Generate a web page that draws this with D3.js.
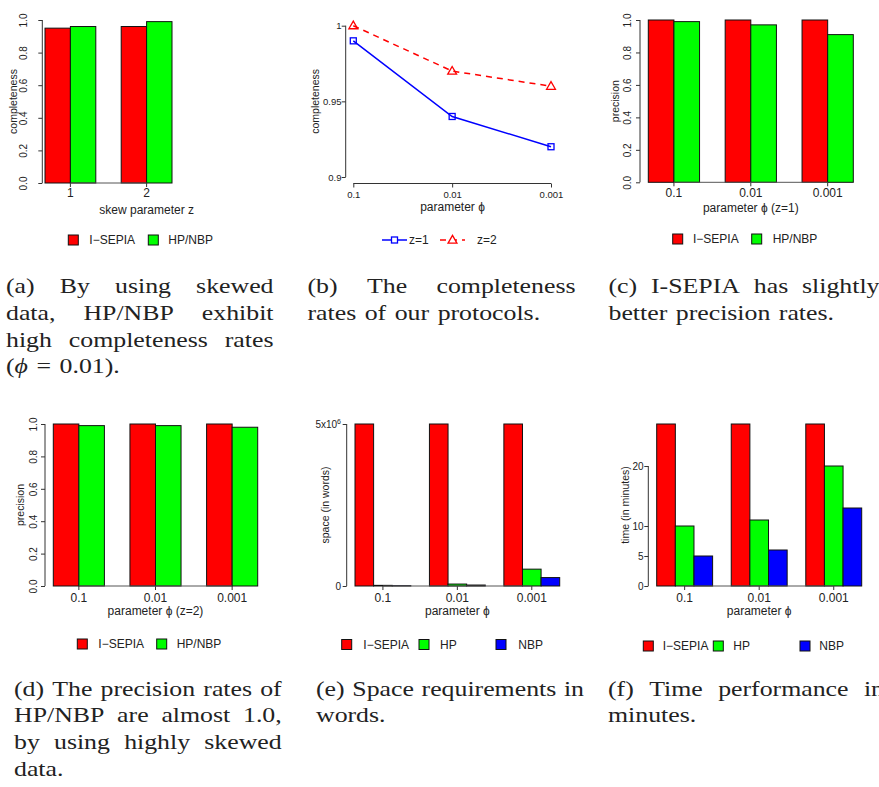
<!DOCTYPE html>
<html>
<head>
<meta charset="utf-8">
<script src="https://cdn.jsdelivr.net/npm/d3@7/dist/d3.min.js"></script>
<style>
  body { margin: 0; background: #fff; }
  svg { display: block; }
</style>
</head>
<body>
<div id="chart"></div>
<script>

// ---- data ----
let skewCats = ["1", "2"];
let phiCats = ["0.1", "0.01", "0.001"];
let series2 = ["I\u2212SEPIA", "HP/NBP"];
let series3 = ["I\u2212SEPIA", "HP", "NBP"];

// (a) completeness vs skew, phi = 0.01
let complIsepia = [0.95, 0.96];
let complHpnbp = [0.96, 0.99];
// (b) completeness vs phi
let complZ1 = [0.99, 0.94, 0.92];
let complZ2 = [1.0, 0.97, 0.96];
// (c) precision z=1
let precZ1Isepia = [1.0, 1.0, 1.0];
let precZ1Hpnbp = [0.99, 0.97, 0.91];
// (d) precision z=2
let precZ2Isepia = [1.0, 1.0, 1.0];
let precZ2Hpnbp = [0.99, 0.99, 0.98];
// (e) space in words
let spaceIsepia = [5e6, 5e6, 5e6];
let spaceHp = [0.02e6, 0.06e6, 0.52e6];
let spaceNbp = [0.01e6, 0.03e6, 0.26e6];
// (f) time in minutes
let timeIsepia = [27, 27, 27];
let timeHp = [10, 11, 20];
let timeNbp = [5, 6, 13];

// tick labels
let fracTicks = [0, 0.2, 0.4, 0.6, 0.8, 1.0];
let complTicks = [0.9, 0.95, 1];
let spaceTicks = [0, 5e6];
let timeTicks = [0, 5, 10, 20];

let colors = ["#ff0000", "#00ff00", "#0000ff"];
let sans = "'Liberation Sans', Arial, Helvetica, sans-serif";
let serif = "'Liberation Serif', 'Times New Roman', serif";
let ink = "#222";

let svg = d3.select("#chart").append("svg")
    .attr("width", 879)
    .attr("height", 787);

function yAxis(g, y, p) {
    let ya = g.append("g")
        .attr("transform", "translate(" + p.yAxisX + ",0)")
        .call(d3.axisLeft(y).tickValues(p.yTicks).tickSize(4).tickFormat(p.yFmt))
        .attr("font-family", sans)
        .attr("font-size", p.yTickSize || 10);
    ya.select(".domain").remove();
    ya.selectAll(".tick line").attr("stroke", "#333");
    ya.append("line")
        .attr("y1", y(p.yTicks[0]))
        .attr("y2", y(p.yTicks[p.yTicks.length - 1]))
        .attr("stroke", "#333");
    let txt = ya.selectAll(".tick text").attr("fill", ink);
    if (p.rotateY) {
        txt.attr("transform", "rotate(-90)")
            .attr("x", 0)
            .attr("y", p.yLabelX - p.yAxisX)
            .attr("dy", "0.35em")
            .attr("text-anchor", "middle");
    } else {
        txt.attr("x", p.yLabelX - p.yAxisX).attr("dy", "0.32em");
    }
    // y title
    g.append("text")
        .attr("transform", "translate(" + p.yTitleX + "," + (y.range()[0] + y.range()[1]) / 2 + ") rotate(-90)")
        .attr("text-anchor", "middle")
        .attr("dy", "0.35em")
        .attr("font-family", sans)
        .attr("font-size", 10.5)
        .attr("fill", ink)
        .text(p.yTitle);
    return ya;
}

function legendBoxes(g, p, names) {
    names.forEach(function(n, i) {
        g.append("rect")
            .attr("x", p.legBox[i])
            .attr("y", p.legendY - 5)
            .attr("width", 10)
            .attr("height", 10)
            .attr("fill", colors[i])
            .attr("stroke", "#111");
        g.append("text")
            .attr("x", p.legText[i])
            .attr("y", p.legendY)
            .attr("dy", "0.35em")
            .attr("font-family", sans)
            .attr("font-size", 12)
            .attr("fill", ink)
            .text(n);
    });
}

function barPanel(p) {
    let g = svg.append("g");
    let nS = p.series.length;
    let x = d3.scaleBand().domain(p.cats).range([p.x0, p.x1])
        .paddingInner(1 / (nS + 1)).paddingOuter(0);
    let xs = d3.scaleBand().domain(p.series).range([0, x.bandwidth()]);
    let y = d3.scaleLinear().domain([0, p.yMax]).range([p.yBottom, p.yTop]);

    p.series.forEach(function(s, si) {
        g.selectAll(null)
            .data(p.values[si])
            .enter()
            .append("rect")
            .attr("x", function(d, i) { return x(p.cats[i]) + xs(s); })
            .attr("y", function(d) { return y(d); })
            .attr("width", xs.bandwidth())
            .attr("height", function(d) { return y(0) - y(d); })
            .attr("fill", colors[si])
            .attr("stroke", "#111")
            .attr("stroke-width", 1);
    });

    // x axis, R style: line from first to last tick
    let xa = g.append("g")
        .attr("transform", "translate(0," + p.yBottom + ")")
        .call(d3.axisBottom(x).tickSize(4).tickSizeOuter(0))
        .attr("font-family", sans)
        .attr("font-size", 12);
    xa.select(".domain").remove();
    xa.selectAll(".tick line").attr("stroke", "#333");
    xa.append("line")
        .attr("x1", x(p.cats[0]) + x.bandwidth() / 2)
        .attr("x2", x(p.cats[p.cats.length - 1]) + x.bandwidth() / 2)
        .attr("stroke", "#555");
    xa.selectAll(".tick text")
        .attr("y", p.xTickY - p.yBottom)
        .attr("dy", "0.35em")
        .attr("fill", ink);

    g.append("text")
        .attr("x", p.xTitleX || (p.x0 + p.x1) / 2)
        .attr("y", p.xTitleY)
        .attr("dy", "0.35em")
        .attr("text-anchor", "middle")
        .attr("font-family", sans)
        .attr("font-size", 12)
        .attr("fill", ink)
        .text(p.xTitle);

    yAxis(g, y, p);
    legendBoxes(g, p, p.series);
}

let fmt1 = d3.format(".1f");

// (a)
barPanel({
    cats: skewCats, series: series2, values: [complIsepia, complHpnbp],
    x0: 45, x1: 172, yTop: 20, yBottom: 183, yMax: 1,
    yTicks: fracTicks, yFmt: fmt1, yAxisX: 42.3, rotateY: true, yLabelX: 23.5,
    yTitle: "completeness", yTitleX: 13.5,
    xTitle: "skew parameter z", xTitleX: 146.7, xTickY: 192.5, xTitleY: 209.5,
    legendY: 240, legBox: [68.3, 148.3], legText: [89.3, 168.3]
});

// (c)
barPanel({
    cats: phiCats, series: series2, values: [precZ1Isepia, precZ1Hpnbp],
    x0: 648.3, x1: 853.3, yTop: 20, yBottom: 182.3, yMax: 1,
    yTicks: fracTicks, yFmt: fmt1, yAxisX: 640, rotateY: true, yLabelX: 627,
    yTitle: "precision", yTitleX: 615,
    xTitle: "parameter \u03d5 (z=1)", xTickY: 192.5, xTitleY: 207.5,
    legendY: 239, legBox: [672.7, 751.7], legText: [693, 772.7]
});

// (d)
barPanel({
    cats: phiCats, series: series2, values: [precZ2Isepia, precZ2Hpnbp],
    x0: 53.3, x1: 257.7, yTop: 424, yBottom: 586, yMax: 1,
    yTicks: fracTicks, yFmt: fmt1, yAxisX: 45, rotateY: true, yLabelX: 33.5,
    yTitle: "precision", yTitleX: 20,
    xTitle: "parameter \u03d5 (z=2)", xTickY: 597.5, xTitleY: 611,
    legendY: 644, legBox: [77.3, 156.7], legText: [98.3, 176.7]
});

// (e)
barPanel({
    cats: phiCats, series: series3, values: [spaceIsepia, spaceHp, spaceNbp],
    x0: 355, x1: 559.7, yTop: 424, yBottom: 586, yMax: 5e6,
    yTicks: spaceTicks, yFmt: function(d) { return d === 0 ? "0" : "5x10"; },
    yAxisX: 346.7, rotateY: false, yLabelX: 341,
    yTitle: "space (in words)", yTitleX: 325.5,
    xTitle: "parameter \u03d5", xTickY: 597.5, xTitleY: 611,
    legendY: 644.5, legBox: [341.7, 419, 496], legText: [363.3, 440, 518.3]
});
// exponent on the 5x10^6 label
svg.selectAll(".tick text").filter(function(d) { return d === 5e6; })
    .append("tspan").attr("dy", "-0.55em").attr("font-size", 7).text("6");

// (f)
barPanel({
    cats: phiCats, series: series3, values: [timeIsepia, timeHp, timeNbp],
    x0: 656.7, x1: 861.7, yTop: 424, yBottom: 586, yMax: 27,
    yTicks: timeTicks, yFmt: d3.format("d"),
    yAxisX: 648.3, rotateY: false, yLabelX: 643.5,
    yTitle: "time (in minutes)", yTitleX: 625,
    xTitle: "parameter \u03d5", xTickY: 597.5, xTitleY: 611,
    legendY: 646, legBox: [643.3, 713.3, 800], legText: [662.7, 733.3, 819.3]
});

// (b) line chart
(function() {
    let g = svg.append("g");
    let x = d3.scalePoint().domain(phiCats).range([353.3, 551]);
    let y = d3.scaleLinear().domain([0.9, 1]).range([177, 25.7]);
    let axisY = 183.5;

    let xa = g.append("g")
        .attr("transform", "translate(0," + axisY + ")")
        .call(d3.axisBottom(x).tickSize(4).tickSizeOuter(0))
        .attr("font-family", sans)
        .attr("font-size", 9.5);
    xa.select(".domain").remove();
    xa.selectAll(".tick line").attr("stroke", "#333");
    xa.append("line").attr("x1", x(phiCats[0])).attr("x2", x(phiCats[2])).attr("stroke", "#333");
    xa.selectAll(".tick text").attr("y", 195 - axisY).attr("dy", "0.35em").attr("fill", ink);

    g.append("text")
        .attr("x", 452.5).attr("y", 206.5).attr("dy", "0.35em")
        .attr("text-anchor", "middle")
        .attr("font-family", sans).attr("font-size", 12).attr("fill", ink)
        .text("parameter \u03d5");

    yAxis(g, y, {
        yAxisX: 345.7, yTicks: complTicks, yFmt: function(d) { return d === 1 ? "1" : String(d); },
        rotateY: false, yLabelX: 341.5, yTickSize: 9.5,
        yTitle: "completeness", yTitleX: 315
    });

    let line = d3.line()
        .x(function(d, i) { return x(phiCats[i]); })
        .y(function(d) { return y(d); });

    g.append("path").datum(complZ1)
        .attr("d", line).attr("fill", "none")
        .attr("stroke", "#0000ff").attr("stroke-width", 1.5);
    g.append("path").datum(complZ2)
        .attr("d", line).attr("fill", "none")
        .attr("stroke", "#ff0000").attr("stroke-width", 1.5)
        .attr("stroke-dasharray", "6,5");

    let tri = d3.symbol().type(d3.symbolTriangle).size(34);

    g.selectAll(".sq").data(complZ1).enter().append("rect")
        .attr("x", function(d, i) { return x(phiCats[i]) - 3; })
        .attr("y", function(d) { return y(d) - 3; })
        .attr("width", 6).attr("height", 6)
        .attr("fill", "none").attr("stroke", "#0000ff").attr("stroke-width", 1.3);
    g.selectAll(".tri").data(complZ2).enter().append("path")
        .attr("d", tri)
        .attr("transform", function(d, i) { return "translate(" + x(phiCats[i]) + "," + (y(d) + 0.5) + ")"; })
        .attr("fill", "none").attr("stroke", "#ff0000").attr("stroke-width", 1.3);

    // legend
    let ly = 240;
    g.append("line").attr("x1", 382).attr("x2", 407).attr("y1", ly).attr("y2", ly)
        .attr("stroke", "#0000ff").attr("stroke-width", 1.5);
    g.append("rect").attr("x", 391.5).attr("y", ly - 3).attr("width", 6).attr("height", 6)
        .attr("fill", "#fff").attr("stroke", "#0000ff").attr("stroke-width", 1.3);
    g.append("text").attr("x", 409).attr("y", ly).attr("dy", "0.35em")
        .attr("font-family", sans).attr("font-size", 12).attr("fill", ink).text("z=1");
    g.append("line").attr("x1", 440).attr("x2", 465).attr("y1", ly).attr("y2", ly)
        .attr("stroke", "#ff0000").attr("stroke-width", 1.5).attr("stroke-dasharray", "6,5");
    g.append("path").attr("d", tri)
        .attr("transform", "translate(452.5," + (ly + 0.5) + ")")
        .attr("fill", "#fff").attr("stroke", "#ff0000").attr("stroke-width", 1.3);
    g.append("text").attr("x", 477).attr("y", ly).attr("dy", "0.35em")
        .attr("font-family", sans).attr("font-size", 12).attr("fill", ink).text("z=2");
})();

// ---- captions (justified like the LaTeX subcaptions) ----
let capSize = 21.5, capK = 1.2, capLead = 26.7;

function caption(x, y, width, lines) {
    lines.forEach(function(line, i) {
        let yy = y + i * capLead;
        let last = i === lines.length - 1;
        let words = line.split(" ");
        let ts = words.map(function(w) {
            let t = svg.append("text")
                .attr("y", yy)
                .attr("font-family", serif)
                .attr("font-size", capSize)
                .attr("fill", "#222");
            w.split(/(\u03d5)/).forEach(function(part) {
                if (!part) return;
                let sp = t.append("tspan").text(part);
                if (part === "\u03d5") sp.attr("font-style", "italic");
            });
            return t;
        });
        let widths = ts.map(function(t) { return t.node().getComputedTextLength() * capK; });
        let total = d3.sum(widths);
        let gap = last ? 8.5 : (width - total) / (words.length - 1);
        let cx = x;
        ts.forEach(function(t, j) {
            t.attr("x", cx)
                .attr("textLength", widths[j])
                .attr("lengthAdjust", "spacingAndGlyphs");
            cx += widths[j] + gap;
        });
    });
}

caption(6, 293.3, 267.5, ["(a) By using skewed", "data, HP/NBP exhibit", "high completeness rates", "(\u03d5 = 0.01)."]);
caption(307.5, 293.3, 268, ["(b) The completeness", "rates of our protocols."]);
caption(608.5, 293.3, 271, ["(c) I-SEPIA has slightly", "better precision rates."]);
caption(14, 695.7, 267.7, ["(d) The precision rates of", "HP/NBP are almost 1.0,", "by using highly skewed", "data."]);
caption(316, 695.7, 268, ["(e) Space requirements in", "words."]);
caption(608, 695.7, 276, ["(f) Time performance in", "minutes."]);

</script>
</body>
</html>
